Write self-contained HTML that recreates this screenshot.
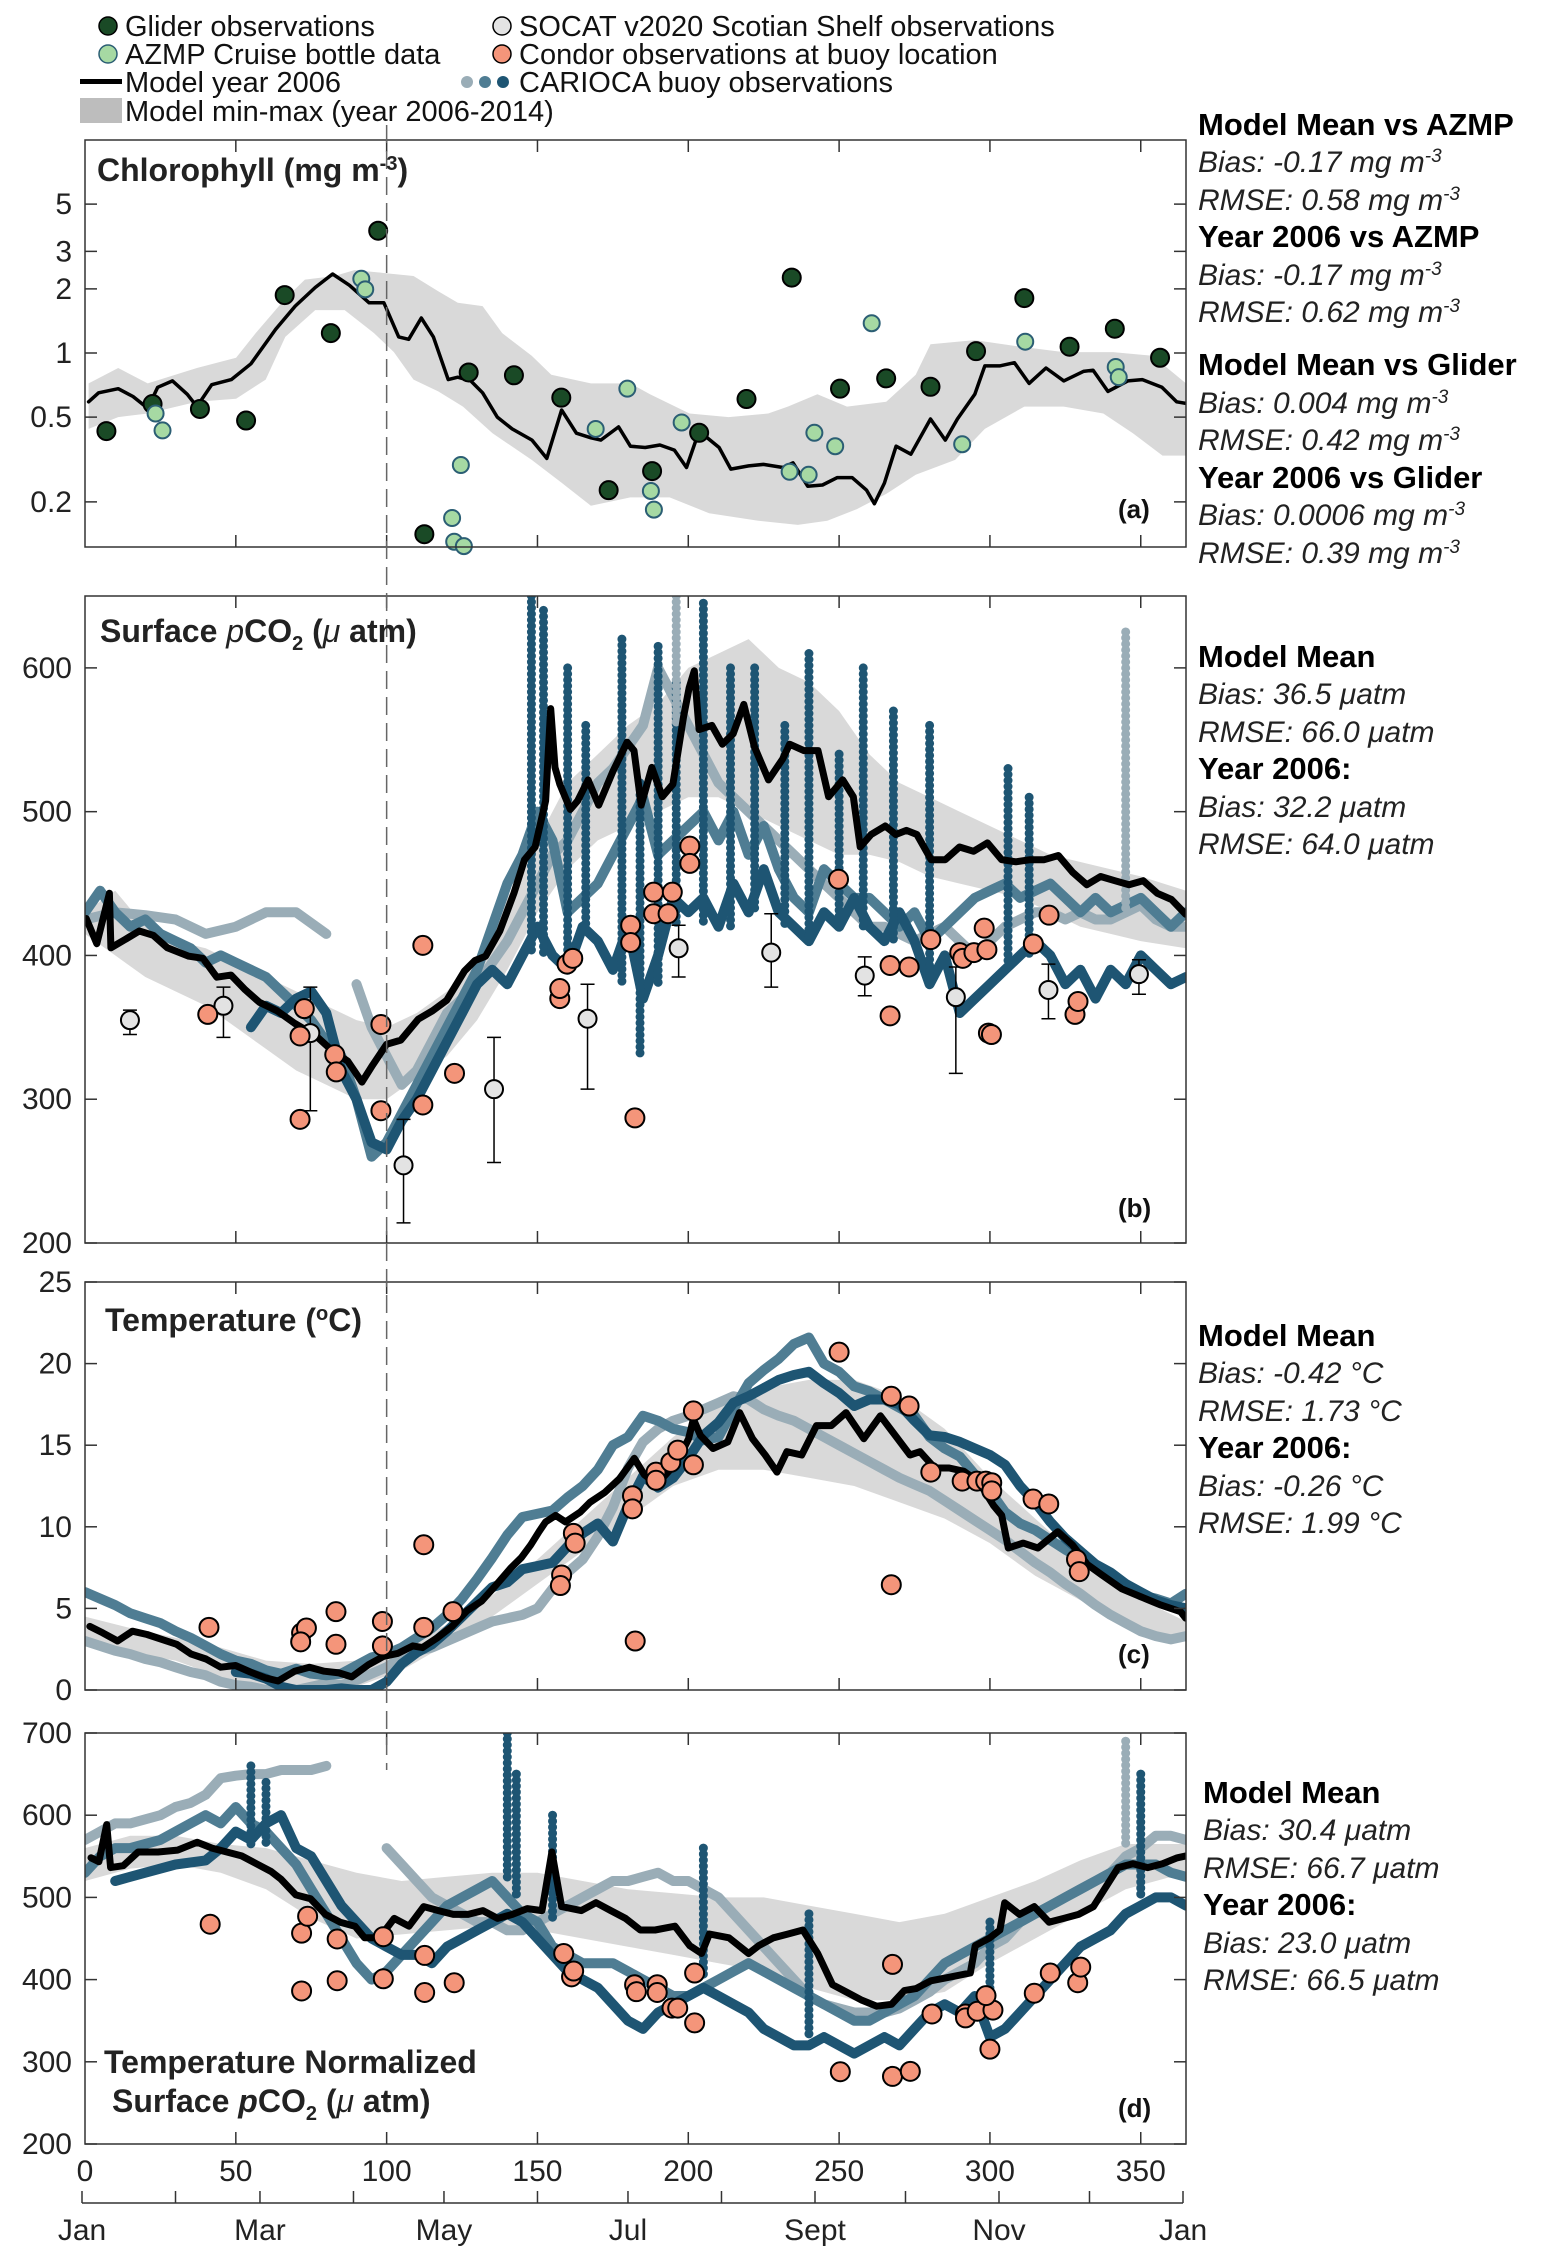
<!DOCTYPE html>
<html><head><meta charset="utf-8"><style>
html,body{margin:0;padding:0;background:#fff;}
svg{display:block;font-family:"Liberation Sans",sans-serif;}
.tk{font-size:30px;fill:#222;}
.rb{font-size:31px;font-weight:bold;fill:#000;}
.ri{font-size:30px;font-style:italic;fill:#222;}
.lg{font-size:29px;fill:#111;}
.pt{font-size:32px;font-weight:bold;fill:#222;}
.pl{font-size:26px;font-weight:bold;fill:#111;}
</style></head><body>
<svg id="fig" width="1544" height="2261" viewBox="0 0 1544 2261" xmlns="http://www.w3.org/2000/svg">
<defs>
<clipPath id="clipa"><rect x="85" y="140" width="1101" height="407"/></clipPath>
<clipPath id="clipb"><rect x="85" y="596" width="1101" height="647"/></clipPath>
<clipPath id="clipc"><rect x="85" y="1282" width="1101" height="408"/></clipPath>
<clipPath id="clipd"><rect x="85" y="1733" width="1101" height="411"/></clipPath>
</defs>
<g>
<circle cx="108" cy="26" r="9" fill="#1a4a26" stroke="#000" stroke-width="1.5"/>
<text class="lg" x="125" y="36">Glider observations</text>
<circle cx="108" cy="54" r="9" fill="#a6d9a3" stroke="#2b5e74" stroke-width="1.5"/>
<text class="lg" x="125" y="64">AZMP Cruise bottle data</text>
<rect x="80" y="79" width="42" height="5" fill="#000"/>
<text class="lg" x="125" y="92">Model year 2006</text>
<rect x="80" y="98" width="42" height="25" fill="#bdbdbd"/>
<text class="lg" x="125" y="121">Model min-max (year 2006-2014)</text>
<circle cx="502" cy="26" r="9" fill="#e3e3e3" stroke="#000" stroke-width="1.5"/>
<text class="lg" x="519" y="36">SOCAT v2020 Scotian Shelf observations</text>
<circle cx="502" cy="54" r="9" fill="#f4957a" stroke="#000" stroke-width="1.5"/>
<text class="lg" x="519" y="64">Condor observations at buoy location</text>
<circle cx="467" cy="82" r="6" fill="#9aadb7"/>
<circle cx="485" cy="82" r="6" fill="#4f7d93"/>
<circle cx="503" cy="82" r="6" fill="#1e5573"/>
<text class="lg" x="519" y="92">CARIOCA buoy observations</text>
</g>
<g>
<text class="rb" x="1198" y="135">Model Mean vs AZMP</text>
<text class="ri" x="1198" y="172">Bias: -0.17 mg m<tspan dy="-10" font-size="19">-3</tspan></text>
<text class="ri" x="1198" y="210">RMSE: 0.58 mg m<tspan dy="-10" font-size="19">-3</tspan></text>
<text class="rb" x="1198" y="247">Year 2006 vs AZMP</text>
<text class="ri" x="1198" y="285">Bias: -0.17 mg m<tspan dy="-10" font-size="19">-3</tspan></text>
<text class="ri" x="1198" y="322">RMSE: 0.62 mg m<tspan dy="-10" font-size="19">-3</tspan></text>
<text class="rb" x="1198" y="375">Model Mean vs Glider</text>
<text class="ri" x="1198" y="413">Bias: 0.004 mg m<tspan dy="-10" font-size="19">-3</tspan></text>
<text class="ri" x="1198" y="450">RMSE: 0.42 mg m<tspan dy="-10" font-size="19">-3</tspan></text>
<text class="rb" x="1198" y="488">Year 2006 vs Glider</text>
<text class="ri" x="1198" y="525">Bias: 0.0006 mg m<tspan dy="-10" font-size="19">-3</tspan></text>
<text class="ri" x="1198" y="563">RMSE: 0.39 mg m<tspan dy="-10" font-size="19">-3</tspan></text>
</g>
<g>
<text class="rb" x="1198" y="667">Model Mean</text>
<text class="ri" x="1198" y="704">Bias: 36.5 μatm</text>
<text class="ri" x="1198" y="742">RMSE: 66.0 μatm</text>
<text class="rb" x="1198" y="779">Year 2006:</text>
<text class="ri" x="1198" y="817">Bias: 32.2 μatm</text>
<text class="ri" x="1198" y="854">RMSE: 64.0 μatm</text>
</g>
<g>
<text class="rb" x="1198" y="1346">Model Mean</text>
<text class="ri" x="1198" y="1383">Bias: -0.42 °C</text>
<text class="ri" x="1198" y="1421">RMSE: 1.73 °C</text>
<text class="rb" x="1198" y="1458">Year 2006:</text>
<text class="ri" x="1198" y="1496">Bias: -0.26 °C</text>
<text class="ri" x="1198" y="1533">RMSE: 1.99 °C</text>
</g>
<g>
<text class="rb" x="1203" y="1803">Model Mean</text>
<text class="ri" x="1203" y="1840">Bias: 30.4 μatm</text>
<text class="ri" x="1203" y="1878">RMSE: 66.7 μatm</text>
<text class="rb" x="1203" y="1915">Year 2006:</text>
<text class="ri" x="1203" y="1953">Bias: 23.0 μatm</text>
<text class="ri" x="1203" y="1990">RMSE: 66.5 μatm</text>
</g>
<g id="plots"></g>
<g>
<text class="pt" x="97" y="181">Chlorophyll (mg m<tspan dy="-11" font-size="20">-3</tspan><tspan dy="11">)</tspan></text>
<text class="pt" x="100" y="642">Surface <tspan font-style="italic" font-weight="normal">p</tspan>CO<tspan dy="8" font-size="20">2</tspan><tspan dy="-8"> (</tspan><tspan font-style="italic" font-weight="normal">μ</tspan> atm)</text>
<text class="pt" x="105" y="1331">Temperature (<tspan dy="-11" font-size="20">o</tspan><tspan dy="11">C)</tspan></text>
<text class="pt" x="104" y="2073">Temperature Normalized</text>
<text class="pt" x="112" y="2112">Surface <tspan font-style="italic">p</tspan>CO<tspan dy="8" font-size="20">2</tspan><tspan dy="-8"> (</tspan><tspan font-style="italic" font-weight="normal">μ</tspan> atm)</text>
<text class="pl" x="1118" y="518">(a)</text>
<text class="pl" x="1118" y="1217">(b)</text>
<text class="pl" x="1118" y="1663">(c)</text>
<text class="pl" x="1118" y="2117">(d)</text>
</g>
</svg>
<script>
// ---------- Panel (a) chlorophyll ----------
const gliderDays=[7.1,22.4,38.1,53.4,66.2,81.5,97.2,112.5,127.2,142.2,157.9,173.6,188,203.6,219.3,234.3,250.3,265.6,280.3,295.4,311.4,326.4,341.4,356.4];
const gliderVals=[0.43,0.576,0.546,0.482,1.87,1.24,3.75,0.141,0.81,0.786,0.617,0.227,0.279,0.422,0.608,2.26,0.68,0.76,0.694,1.02,1.81,1.07,1.30,0.95];
const azmpDays=[23.4,25.7,91.6,92.9,121.7,122.4,124.6,125.6,169.3,179.8,187.6,188.6,197.8,233.6,239.9,241.8,248.7,260.8,290.8,311.7,341.7,342.7];
const azmpVals=[0.52,0.433,2.23,1.99,0.168,0.13,0.298,0.124,0.44,0.68,0.225,0.184,0.472,0.277,0.268,0.422,0.365,1.38,0.373,1.13,0.86,0.77];
const chlModelDays=[1.2,4.5,11,15.9,20.8,24.1,29,33.9,37.1,42,48.5,55,63.2,69.7,76.3,82.1,87.7,94.2,99.1,104,107.3,111.5,115.5,120.4,123.6,127.9,131.8,136.7,141.6,148.2,153.1,158,162.9,167.7,171,176.9,180.8,185.7,190.6,195.4,199.4,203.6,210.2,214.1,220,224.9,231.4,234.7,239.6,244.5,249.4,254.3,259.1,261.7,265,268.9,273.8,280.3,285.2,289.2,295,298.3,303.2,308.1,313,318.6,324.5,331,334.2,339.1,345.7,350.5,357,361.9,365];
const chlModelVals=[0.59,0.65,0.68,0.625,0.55,0.69,0.74,0.64,0.56,0.71,0.75,0.89,1.29,1.66,2.03,2.35,2.08,1.72,1.72,1.19,1.16,1.46,1.19,0.75,0.77,0.74,0.65,0.50,0.44,0.39,0.32,0.54,0.42,0.40,0.39,0.45,0.365,0.36,0.37,0.35,0.29,0.43,0.36,0.285,0.295,0.30,0.29,0.305,0.237,0.24,0.26,0.26,0.227,0.196,0.245,0.365,0.335,0.49,0.39,0.49,0.64,0.87,0.87,0.90,0.72,0.85,0.74,0.82,0.83,0.66,0.74,0.75,0.69,0.59,0.58];
const chlBandUpDays=[1.2,11,20.8,37.1,50.1,56.6,66.4,72.9,82.7,89.3,95.8,108.9,117.1,123.6,131.8,138.3,148.1,154.6,167.7,180.8,187.3,200.4,213.4,226.5,233,242.8,252.6,265.6,275.4,280.3,295,308.1,324.5,340.8,353.9,365];
const chlBandUp=[0.72,0.85,0.72,0.85,0.95,1.24,1.80,2.21,2.30,2.45,2.40,2.30,1.95,1.72,1.66,1.24,0.97,0.79,0.72,0.72,0.64,0.52,0.50,0.52,0.56,0.64,0.56,0.59,0.79,1.10,1.15,1.08,1.01,1.01,0.97,0.72];
const chlBandLoDays=[1.2,11,20.8,37.1,50.1,59.9,66.4,76.3,86.1,95.8,102.4,108.9,117.1,125.3,135.1,148.1,158,167.7,180.8,193.8,206.9,223.2,236.3,246.1,255.9,265.6,275.4,288.5,298.3,311.4,324.5,337.6,347.4,357.2,365];
const chlBandLo=[0.44,0.50,0.52,0.59,0.61,0.75,1.19,1.59,1.59,1.24,1.01,0.75,0.66,0.56,0.42,0.315,0.246,0.192,0.21,0.21,0.177,0.163,0.156,0.163,0.185,0.218,0.268,0.315,0.44,0.56,0.56,0.52,0.42,0.33,0.33];

// ---------- Panel (b) surface pCO2 ----------
const pco2ModelDays=[0.4,3.9,8.1,8.6,13.3,18,22.6,27.3,34.4,39.1,43.7,48.4,53.1,57.8,63.7,69.5,76.6,81.2,87.1,91.8,95.3,100,104.7,110.5,115.2,119.9,125.8,129.3,132.8,137.5,142.2,145.7,149.2,152.7,154.4,155.8,157.4,160.9,163.3,166.8,170.3,175,179.7,182,184.4,187.9,191.4,194.9,198.4,200.3,202,203.6,207.8,211.3,214.9,218.4,221.9,226.6,231.3,233.6,238.3,243,246.5,251.2,254.7,257,260.6,265.3,268.8,272.3,275.8,280.5,285.2,289.9,294.6,299.2,303.9,308.6,313.3,318,322.7,327.4,332.1,336.7,341.4,346.1,350.8,355.5,360.2,364.9];
const pco2ModelVals=[425.7,408.2,443.2,405.3,411.1,417,414,405.3,399.5,398,384.9,386.3,376.1,367.4,361.5,352.8,344,335.2,326.5,311.9,323.6,338.2,341.1,355.7,361.5,368.8,389.2,396.5,399.5,417,443.2,466.6,475.4,507.5,571.7,530.8,519.1,501.6,507.5,522.1,504.6,528,548.3,542.5,504.6,530.8,510.4,519.1,565.8,586.3,598,557.1,560,546.9,554.2,574.6,545.4,522.1,536.7,546.9,542.5,542.5,510.4,522.1,510.4,475.4,484.1,490,484.1,487,484.1,466.6,466.6,475.4,472.4,478.3,466.6,465.1,466.6,466.6,469.5,457.8,449.1,454.9,452,449.1,452,443.2,438.9,428.6];
const pco2BandDays=[0,10,20,30,40,50,60,70,80,90,100,110,120,130,140,150,160,170,180,190,200,210,220,230,240,250,260,270,280,290,300,310,320,330,340,350,365];
const pco2BandUp=[430,445,420,410,405,395,385,375,365,355,350,360,375,400,440,480,520,540,560,575,600,610,620,600,590,570,540,520,510,500,490,480,470,465,460,455,445];
const pco2BandLo=[415,400,385,375,365,350,335,320,310,300,300,315,330,355,390,430,460,480,490,500,510,510,500,490,480,470,470,465,455,450,445,440,430,420,415,410,405];
const pco2LightDays=[0,10,20,30,40,50,60,70,80,null,90,95,100,105,110,115,120,125,130,135,140,145,150,155,160,165,170,175,180,185,190,195,200,205,210,215,220,225,230,235,240,245,250,255,260,265,270,275,280,285,290,295,300,305,310,315,320,325,330,335,340,345,350,355,360,365];
const pco2LightVals=[425,430,428,425,415,420,430,430,415,null,380,350,330,310,320,340,360,370,380,395,410,430,450,470,480,500,520,530,545,560,600,580,560,540,520,510,500,490,480,470,460,450,440,430,420,420,415,410,415,420,410,400,410,420,425,430,430,425,430,425,425,430,435,425,420,420];
const pco2MidDays=[0,5,10,15,20,25,30,35,40,45,50,55,60,65,70,75,80,85,90,95,100,105,110,115,120,125,130,135,140,145,150,155,160,165,170,175,180,185,190,195,200,205,210,215,220,225,230,235,240,245,250,255,260,265,270,275,280,285,290,295,300,305,310,315,320,325,330,335,340,345,350,355,360,365];
const pco2MidVals=[430,445,430,420,425,415,410,405,395,400,395,390,385,375,365,355,340,330,300,260,270,290,310,330,350,370,390,420,450,470,500,480,430,440,450,470,490,510,470,480,490,500,480,500,470,490,460,440,430,460,450,440,440,430,420,430,410,420,430,440,445,450,440,445,450,440,430,440,430,435,440,430,420,430];
const pco2DarkDays=[55,60,65,70,75,80,85,90,95,100,105,110,115,120,125,130,135,140,145,150,155,160,165,170,175,180,185,190,195,200,205,210,215,220,225,230,235,240,245,250,255,260,265,270,275,280,285,290,295,300,305,310,315,320,325,330,335,340,345,350,355,360,365];
const pco2DarkVals=[350,365,360,370,375,360,320,300,270,265,285,300,320,340,360,380,390,380,400,420,400,390,420,410,390,420,370,400,440,430,440,420,450,430,460,430,420,410,430,420,440,420,410,430,410,380,400,360,370,380,390,400,410,400,380,390,370,390,380,400,390,380,385];
const pco2SpikeDarkDays=[148,152,160,166,178,184,190,196,205,214,222,232,240,250,258,268,280,306,313];
const pco2SpikeDarkTop=[650,640,600,560,620,520,615,590,645,600,600,560,610,540,600,570,560,530,510];
const pco2SpikeDarkBot=[400,400,390,420,380,330,380,420,420,420,430,420,410,420,420,410,380,390,400];
const pco2SpikeLightDays=[196,345];
const pco2SpikeLightTop=[650,625];
const pco2SpikeLightBot=[560,430];
const condorBDays=[40.7,71.3,71.3,72.7,82.8,83.3,98.1,98.1,112,112,122.5,157.4,157.4,159.8,161.7,182.3,180.9,180.9,188.5,188.5,193.3,194.7,200.5,200.5,249.8,266.9,266.9,273.2,280.4,290,291,294.7,298.1,299.5,300.5,299,314.4,319.6,328.2,329.2];
const condorBVals=[359,344,286,363,331,319,352,292,407,296,318,370,377,394,398,287,421,409,444,429,429,444,476,464,453,358,393,392,411,402,398,402,419,346,345,404,408,428,359,368];
const socatDays=[14.9,45.9,74.7,105.6,135.6,166.6,196.8,227.5,258.5,288.7,319.4,349.4];
const socatVals=[355,365,346,254,307,356,405,402,386,371,376,387];
const socatHi=[362,378,378,286,343,380,421,429,399,392,394,397];
const socatLo=[345,343,292,214,256,307,385,378,372,318,356,373];

// ---------- Panel (c) temperature ----------
const tempModelDays=[1.6,5.9,10.8,15.7,20.6,25.5,30.4,35.2,40.1,45,49.9,54.8,59.7,64,69.5,74.4,79.3,84.2,88.4,94,98.9,103.8,108.7,111.9,116.8,121.7,126.6,131.5,136.4,141.3,144.6,147.8,150.5,152.7,156,159.3,164.2,167.4,172.3,177.2,182.1,185.4,189.6,193.5,197.5,200.1,201.7,204,208.2,213.1,217,221.3,225.5,229.4,232.7,237.6,242.5,247.4,252.3,258.2,263.7,268.6,273.5,276.8,281.7,286.5,291.4,296.3,301.2,303.9,306.1,311,315.9,322.5,327.3,332.2,337.1,343.7,350.2,356.7,363.2,364.9];
const tempModelVals=[3.9,3.5,3.0,3.6,3.4,3.1,2.8,2.2,1.9,1.4,1.5,1.1,0.75,0.55,1.15,1.4,1.15,1.05,0.8,1.55,2.05,2.25,2.7,2.6,3.2,3.9,4.85,5.45,6.45,7.5,8.1,8.9,9.7,10.3,10.7,10.3,10.9,11.5,12.1,12.95,14.2,13.2,12.6,13.4,14.4,15.4,16.6,15.6,14.8,15.2,17,15.4,14.4,13.35,14.6,14.4,16.2,16.2,17,15.4,16.8,15.6,14.4,14.6,13.6,13.6,13.4,12.75,11.3,10.7,8.7,9,8.7,9.7,8.9,7.7,7.05,6.2,5.7,5.2,4.8,4.4];
const tempBandDays=[0,15,30,45,60,75,90,105,120,135,150,165,180,195,210,225,240,255,270,285,300,315,330,345,365];
const tempBandUp=[4.5,3.8,3.2,2.6,1.8,1.6,1.8,2.6,4,5.8,8,10.5,13,15.5,17.5,18.5,19,19,18,16,13,10.5,8,6,4.2];
const tempBandLo=[2.8,2.3,1.8,0.8,0.2,0,0.2,1.2,2.8,4.5,6.5,8.5,10.5,12.5,13.5,13.5,13,12.5,11.5,10.5,9,7,5.5,4,3];
const tempStepDays=[0,5,10,15,20,25,30,35,40,45,50,55,60,65,70,75,80,85,90,95,100,105,110,115,120,125,130,135,140,145,150,155,160,165,170,175,180,185,190,195,200,205,210,215,220,225,230,235,240,245,250,255,260,265,270,275,280,285,290,295,300,305,310,315,320,325,330,335,340,345,350,355,360,365];
const tempMidVals=[6,5.6,5.2,4.7,4.4,4.1,3.6,3.2,2.7,2.2,1.8,1.6,1.2,1,1.3,1.0,0.9,1,1.5,2,2.2,2.6,3.2,3.8,4.6,5.6,6.8,8.1,9.5,10.6,10.8,11,11.8,12.5,13.5,15,15.5,16.8,16.5,16,15.8,15.3,15.5,17.2,18.8,19.6,20.3,21.2,21.6,20,19.5,18.6,18.3,17.8,17.3,16.8,15.5,14.8,14.3,13.2,12.2,10.9,10.2,9.8,9.2,8.6,8.1,7.5,6.9,6.4,5.8,5.6,5.3,5.9];
const tempLightVals=[3,2.7,2.4,2.2,1.9,1.7,1.4,1.1,0.9,0.5,0.3,0.2,0,0,0,0.2,0.4,0.3,0.6,1,1.4,2,2.4,2.6,3,3.4,3.8,4.2,4.4,4.6,5,6.2,7.2,8,9.4,11.2,13.6,15.2,16,16.5,16.8,17.2,17.6,18,17.8,17.2,16.8,16.5,16,15.5,15,14.5,14,13.5,13,12.6,12.2,11.6,11,10.4,9.8,9.2,8.5,7.8,7.2,6.5,5.9,5.2,4.6,4.1,3.6,3.3,3.1,3.3];
const tempDarkDays=[50,55,60,65,70,75,80,85,90,95,100,105,110,115,120,125,130,135,140,145,150,155,160,165,170,175,180,185,190,195,200,205,210,215,220,225,230,235,240,245,250,255,260,265,270,275,280,285,290,295,300,305,310,315,320,325,330,335,340,345,350,355,360,365];
const tempDarkVals=[1.1,1,0.7,0.2,0,0,0,0.1,0,0,0.5,1.6,2.3,2.8,3.6,4.5,5.4,6.3,6.6,7.4,7.6,7.8,8.8,9.6,10.2,9.1,11.3,13.1,12.4,13,14.2,15.6,16.4,17.6,18,18.5,19,19.3,19.5,18.8,18.2,17.4,17.8,17.8,17.5,16.5,15.6,15.5,15.2,14.8,14.4,13.8,12.5,11.5,10.3,9.3,8.5,7.7,7.2,6.5,6,5.5,5.2,5];
const condorCDays=[41.1,71.8,73.4,71.5,83.2,83.2,98.6,98.6,112.3,112.3,122,158,157.6,161.9,162.5,182.4,181.5,181.5,189.3,189.3,194.2,196.5,201.7,201.7,250,267.3,267.3,273.2,280.4,290.8,295.7,298.6,300.6,300.6,314.3,319.5,328.7,329.6];
const condorCVals=[3.84,3.5,3.8,2.95,4.8,2.8,4.2,2.7,8.9,3.84,4.8,7.05,6.4,9.6,9,3.0,11.9,11.1,13.35,12.85,13.95,14.7,17.1,13.8,20.7,18,6.45,17.4,13.35,12.8,12.8,12.8,12.7,12.2,11.7,11.4,8,7.25];

// ---------- Panel (d) temperature-normalized pCO2 ----------
const npModelDays=[2,4.6,7.2,8.5,12.7,17.6,24.2,30.7,37.2,42.1,47,51.9,56.8,61.7,65,69.9,74.8,79.7,84.6,89.5,92.7,97.6,102.5,107.4,112.3,117.2,122.1,127,131.9,136.8,141.7,146.6,151.5,154.8,158,164.5,169.4,174.3,179.2,184.1,189,195.6,200.5,204.4,207,213.5,220,223.3,228.2,233.1,238,242.9,247.8,252.7,257.6,262.5,267.4,271.6,275.5,280.4,287,293.5,295.1,300,303.3,304.9,309.8,314.7,319.6,324.5,329.4,334.3,339.2,342.5,347.4,352.3,357.2,362.1,365];
const npModelVals=[548.2,543.4,588.6,536.2,538.6,555.2,555.2,557.6,567.1,560,555.2,550.5,541,531.5,522,503,498.3,479.3,469.8,465,450.8,450.8,474.5,465,488.8,484,479.3,479.3,484,474.5,479.3,486.4,484,555.2,488.8,484,493.5,484,474.5,460.3,460.3,465,441.3,431.8,455.5,450.8,431.8,441.3,450.8,455.5,460.3,431.8,393.8,384.3,374.8,367.6,370,386.6,389,398.5,403.3,408,441.3,450.8,460.3,493.5,479.3,488.8,469.8,474.5,479.3,488.8,517.3,536.2,541,536.2,541,548.2,550.5];
const npBandDays=[0,15,30,45,60,75,90,105,120,135,150,165,180,195,210,225,240,255,270,285,300,315,330,345,365];
const npBandUp=[560,575,575,565,560,545,530,520,525,530,530,520,510,505,500,500,490,480,470,480,500,520,545,565,565];
const npBandLo=[520,535,540,530,510,475,450,455,460,465,460,450,440,430,420,410,390,375,375,385,420,450,480,510,530];
const npLightDays=[0,5,10,15,20,25,30,35,40,45,50,55,60,65,70,75,80,null,100,105,110,115,120,125,130,135,140,145,150,155,160,165,170,175,180,185,190,195,200,205,210,215,220,225,230,235,240,245,250,255,260,265,270,275,280,285,290,295,300,305,310,315,320,325,330,335,340,345,350,355,360,365];
const npLightVals=[570,580,590,590,595,600,610,615,625,645,648,650,650,655,655,655,660,null,560,540,520,500,490,480,470,470,460,460,470,480,490,500,510,520,520,525,530,520,520,510,500,480,460,440,420,400,380,370,365,360,360,360,365,375,385,400,410,420,440,450,470,480,490,500,510,520,530,550,560,575,575,570];
const npMidDays=[0,5,10,15,20,25,30,35,40,45,50,55,60,65,70,75,80,85,90,95,100,105,110,115,120,125,130,135,140,145,150,155,160,165,170,175,180,185,190,195,200,205,210,215,220,225,230,235,240,245,250,255,260,265,270,275,280,285,290,295,300,305,310,315,320,325,330,335,340,345,350,355,360,365];
const npMidVals=[530,550,560,560,565,570,580,590,600,590,610,590,580,560,540,510,480,450,420,400,410,430,450,470,490,500,510,520,500,480,470,440,430,420,420,420,410,400,390,380,380,390,400,410,420,410,400,390,380,370,360,350,350,360,370,380,400,420,430,440,450,460,470,480,490,500,510,520,530,540,540,540,530,525];
const npDarkDays=[10,20,30,40,45,50,55,60,65,70,75,80,85,90,95,100,105,110,115,120,125,130,135,140,145,150,155,160,165,170,175,180,185,190,195,200,205,210,215,220,225,230,235,240,245,250,255,260,265,270,275,280,285,290,295,300,305,310,315,320,325,330,335,340,345,350,355,360,365];
const npDarkVals=[520,530,540,545,560,580,570,590,600,560,550,520,490,470,450,440,430,430,420,440,450,460,470,480,470,450,430,410,400,390,370,350,340,360,370,380,390,380,370,360,340,330,320,320,330,320,310,320,330,320,340,360,370,360,380,330,340,360,380,400,420,440,450,460,480,490,500,500,490];
const npSpikeDarkDays=[55,60,140,143,155,205,240,300,350];
const npSpikeDarkTop=[660,640,700,650,600,560,480,470,650];
const npSpikeDarkBot=[560,560,520,500,470,400,330,360,500];
const npSpikeLightDays=[345];
const npSpikeLightTop=[690];
const npSpikeLightBot=[560];
const condorDDays=[41.5,71.8,73.8,71.8,83.6,83.6,98.9,98.9,112.6,112.6,122.4,158.7,161.3,162,182.2,182.8,189.7,189.7,194.6,196.5,202.1,202.1,250.4,267.7,267.7,273.6,280.8,291.9,291.9,295.8,300,301,298.7,314.7,320,329.1,330.1];
const condorDVals=[467.4,456.5,477,386.2,449.4,398.6,452.2,401,429.4,384.3,396.2,431.8,403.3,410.4,393.8,385.3,393.8,384.3,365.3,365.3,408,347.3,287.9,418.5,282.2,288.4,358.2,358.2,353.4,361.5,315.4,362.9,380.5,383.4,408,396.2,415.2];

// ---------- axis tick labels ----------
const dayTicks=[0,50,100,150,200,250,300,350];
const chlTicks=[0.2,0.5,1,2,3,5];
const chlTickLabels=['0.2','0.5','1','2','3','5'];
const pco2Ticks=[200,300,400,500,600];
const tempTicks=[0,5,10,15,20,25];
const npTicks=[200,300,400,500,600,700];
const monthStarts=[0,31,59,90,120,151,181,212,243,273,304,334,365];
const monthLabelDays=[0,59,120,181,243,304,365];
const monthLabels=['Jan','Mar','May','Jul','Sept','Nov','Jan'];

const NS='http://www.w3.org/2000/svg';
const X0=85,X1=1186;
function xs(d){return X0+d*(X1-X0)/365;}
const P={
 a:{top:140,bot:547,y:v=>353-213*Math.log10(v)},
 b:{top:596,bot:1243,y:v=>1243-(v-200)*647/450},
 c:{top:1282,bot:1690,y:v=>1690-v*408/25},
 d:{top:1733,bot:2144,y:v=>2144-(v-200)*411/500}
};
const root=document.getElementById('plots');
function mk(tag,parent){const e=document.createElementNS(NS,tag);parent.appendChild(e);return e;}
function pathFrom(days,vals,yf){let s='',pen=false;for(let i=0;i<days.length;i++){if(days[i]===null||vals[i]===null){pen=false;continue;}s+=(pen?'L':'M')+xs(days[i]).toFixed(1)+','+yf(vals[i]).toFixed(1);pen=true;}return s;}
function bandPath(ud,u,ld,l,yf){let s='';for(let i=0;i<ud.length;i++)s+=(i?'L':'M')+xs(ud[i]).toFixed(1)+','+yf(u[i]).toFixed(1);for(let i=ld.length-1;i>=0;i--)s+='L'+xs(ld[i]).toFixed(1)+','+yf(l[i]).toFixed(1);return s+'Z';}

function panel(key,name){
 const p=P[key];
 const g=mk('g',root);
 
 
 const inner=mk('g',g);
 inner.setAttribute('clip-path','url(#clip'+key+')');
 
 
 return {g,inner,p};
}
function band(P0,ud,u,ld,l,name){
 const e=mk('path',P0.inner);
 e.setAttribute('d',bandPath(ud,u,ld,l,P0.p.y));
 e.setAttribute('fill','#d9d9d9');
 
 
}
function line(P0,days,vals,color,w,name){
 const e=mk('path',P0.inner);
 e.setAttribute('d',pathFrom(days,vals,P0.p.y));
 e.setAttribute('fill','none');
 e.setAttribute('stroke',color);
 e.setAttribute('stroke-width',w);
 e.setAttribute('stroke-linejoin','round');
 e.setAttribute('stroke-linecap','round');
 
 
}
function spikes(P0,days,top,bot,color,name){
 for(let i=0;i<days.length;i++){
  const e=mk('line',P0.inner);
  e.setAttribute('x1',xs(days[i]));e.setAttribute('x2',xs(days[i]));
  e.setAttribute('y1',P0.p.y(top[i]));e.setAttribute('y2',P0.p.y(bot[i]));
  e.setAttribute('stroke',color);e.setAttribute('stroke-width','9');
  e.setAttribute('stroke-linecap','round');e.setAttribute('stroke-dasharray','0 6');
  
  
 }
}
function dots(P0,days,vals,fill,stroke,r,name){
 for(let i=0;i<days.length;i++){
  const e=mk('circle',P0.g);
  e.setAttribute('cx',xs(days[i]));e.setAttribute('cy',P0.p.y(vals[i]));
  e.setAttribute('r',r);e.setAttribute('fill',fill);
  e.setAttribute('stroke',stroke);e.setAttribute('stroke-width','2');
  
  
 }
}
function axes(P0,ticks,labels,name){
 const p=P0.p,g=P0.g;
 const fr=mk('rect',g);
 fr.setAttribute('x',X0);fr.setAttribute('y',p.top);fr.setAttribute('width',X1-X0);fr.setAttribute('height',p.bot-p.top);
 fr.setAttribute('fill','none');fr.setAttribute('stroke','#333');fr.setAttribute('stroke-width','1.5');
 
 
 for(const d of dayTicks){ if(d===0)continue;
  for(const yy of [[p.top,p.top+12],[p.bot,p.bot-12]]){
   const t=mk('line',g);t.setAttribute('x1',xs(d));t.setAttribute('x2',xs(d));t.setAttribute('y1',yy[0]);t.setAttribute('y2',yy[1]);
   t.setAttribute('stroke','#333');t.setAttribute('stroke-width','1.5');
   
   
  }
 }
 for(let i=0;i<ticks.length;i++){
  const y=p.y(ticks[i]);
  for(const xx of [[X0,X0+12],[X1,X1-12]]){
   const t=mk('line',g);t.setAttribute('x1',xx[0]);t.setAttribute('x2',xx[1]);t.setAttribute('y1',y);t.setAttribute('y2',y);
   t.setAttribute('stroke','#333');t.setAttribute('stroke-width','1.5');
   
   
  }
  const tx=mk('text',g);tx.setAttribute('x',72);tx.setAttribute('y',y+10);tx.setAttribute('text-anchor','end');tx.setAttribute('class','tk');
  tx.textContent=labels[i];
  
  
 }
}

// Panel a
const A=panel('a','panel-chlorophyll');
band(A,chlBandUpDays,chlBandUp,chlBandLoDays,chlBandLo,'chl-model-band');
line(A,chlModelDays,chlModelVals,'#000',3.5,'chl-model-line');
dots(A,gliderDays,gliderVals,'#1a4a26','#000',9,'glider-point');
dots(A,azmpDays,azmpVals,'#a6d9a3','#2b5e74',8,'azmp-point');
axes(A,chlTicks,chlTickLabels,'chl');

// Panel b
const B=panel('b','panel-pco2');
band(B,pco2BandDays,pco2BandUp,pco2BandDays,pco2BandLo,'pco2-model-band');
line(B,pco2LightDays,pco2LightVals,'#9aadb7',10,'pco2-buoy-light');
line(B,pco2MidDays,pco2MidVals,'#4f7d93',10,'pco2-buoy-mid');
line(B,pco2DarkDays,pco2DarkVals,'#1e5573',10,'pco2-buoy-dark');
spikes(B,pco2SpikeDarkDays,pco2SpikeDarkTop,pco2SpikeDarkBot,'#1e5573','pco2-buoy-dark-spike');
spikes(B,pco2SpikeLightDays,pco2SpikeLightTop,pco2SpikeLightBot,'#9aadb7','pco2-buoy-light-spike');
line(B,pco2ModelDays,pco2ModelVals,'#000',7,'pco2-model-line');
for(let i=0;i<socatDays.length;i++){
 const x=xs(socatDays[i]);
 const e=mk('path',B.g);
 e.setAttribute('d','M'+x+','+B.p.y(socatHi[i])+'V'+B.p.y(socatLo[i])+'M'+(x-7)+','+B.p.y(socatHi[i])+'h14M'+(x-7)+','+B.p.y(socatLo[i])+'h14');
 e.setAttribute('stroke','#000');e.setAttribute('stroke-width','1.5');e.setAttribute('fill','none');
 
 
}
dots(B,socatDays,socatVals,'#e3e3e3','#000',9,'socat-point');
dots(B,condorBDays,condorBVals,'#f4957a','#000',9.5,'condor-pco2-point');
axes(B,pco2Ticks,pco2Ticks.map(String),'pco2');

// Panel c
const C=panel('c','panel-temperature');
band(C,tempBandDays,tempBandUp,tempBandDays,tempBandLo,'temp-model-band');
line(C,tempStepDays,tempLightVals,'#9aadb7',10,'temp-buoy-light');
line(C,tempStepDays,tempMidVals,'#4f7d93',10,'temp-buoy-mid');
line(C,tempDarkDays,tempDarkVals,'#1e5573',10,'temp-buoy-dark');
line(C,tempModelDays,tempModelVals,'#000',7,'temp-model-line');
dots(C,condorCDays,condorCVals,'#f4957a','#000',9.5,'condor-temp-point');
axes(C,tempTicks,tempTicks.map(String),'temp');

// Panel d
const D=panel('d','panel-normalized-pco2');
band(D,npBandDays,npBandUp,npBandDays,npBandLo,'np-model-band');
line(D,npLightDays,npLightVals,'#9aadb7',10,'np-buoy-light');
line(D,npMidDays,npMidVals,'#4f7d93',10,'np-buoy-mid');
line(D,npDarkDays,npDarkVals,'#1e5573',10,'np-buoy-dark');
spikes(D,npSpikeDarkDays,npSpikeDarkTop,npSpikeDarkBot,'#1e5573','np-buoy-dark-spike');
spikes(D,npSpikeLightDays,npSpikeLightTop,npSpikeLightBot,'#9aadb7','np-buoy-light-spike');
line(D,npModelDays,npModelVals,'#000',7,'np-model-line');
dots(D,condorDDays,condorDVals,'#f4957a','#000',9.5,'condor-np-point');
axes(D,npTicks,npTicks.map(String),'np');

// dashed day-100 line
const dl=mk('line',root);
dl.setAttribute('x1',xs(100));dl.setAttribute('x2',xs(100));dl.setAttribute('y1',125);dl.setAttribute('y2',1770);
dl.setAttribute('stroke','#666');dl.setAttribute('stroke-width','1.5');dl.setAttribute('stroke-dasharray','18 8');



// x tick labels (day)
for(const d of dayTicks){
 const t=mk('text',root);t.setAttribute('x',xs(d));t.setAttribute('y',2181);t.setAttribute('text-anchor','middle');t.setAttribute('class','tk');
 t.textContent=String(d);
 
 
}
// month axis
const ma=mk('line',root);
ma.setAttribute('x1',xs(0)-3);ma.setAttribute('x2',xs(365)-3);ma.setAttribute('y1',2203);ma.setAttribute('y2',2203);
ma.setAttribute('stroke','#333');ma.setAttribute('stroke-width','1.5');


for(const d of monthStarts){
 const t=mk('line',root);t.setAttribute('x1',xs(d)-3);t.setAttribute('x2',xs(d)-3);t.setAttribute('y1',2191);t.setAttribute('y2',2203);
 t.setAttribute('stroke','#333');t.setAttribute('stroke-width','1.5');
 
 
}
for(let i=0;i<monthLabels.length;i++){
 const t=mk('text',root);t.setAttribute('x',xs(monthLabelDays[i])-3);t.setAttribute('y',2240);t.setAttribute('text-anchor','middle');t.setAttribute('class','tk');
 t.textContent=monthLabels[i];
 
 
}
</script>
</body></html>
